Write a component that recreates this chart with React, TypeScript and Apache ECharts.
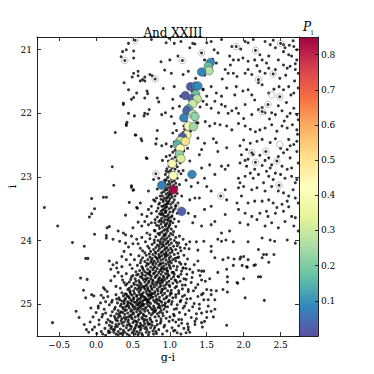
import React, { useEffect, useRef } from "react";
import * as echarts from "echarts";

// ---------- data (g-i, i) ----------
const fieldTopLeft: [number, number][] = [
  [0.44,20.90],[0.75,20.84],[0.95,20.89],[0.41,21.00],[0.36,21.03],[0.51,21.02],[0.34,21.11],[0.51,21.13],[0.88,21.19],[0.93,21.32],
  [0.57,21.34],[0.51,21.37],[0.57,21.41],[0.49,21.43],[0.73,21.39],[0.76,21.41],[0.66,21.43],[0.63,21.47],[0.60,21.49],[0.66,21.49],
  [0.38,21.52],[0.91,21.61],[0.44,21.63],[0.55,21.68],[0.69,21.65],[0.70,21.69],[0.51,21.75],[0.48,21.78],[0.66,21.76],[0.83,21.76],
  [0.85,21.82],[0.37,21.84],[0.37,21.86],[0.72,21.94],[0.44,22.00],[0.52,22.04],[0.66,22.00],[0.65,22.04],[0.70,22.01],[0.89,22.02],
  [0.94,21.99],[0.42,22.14],[0.41,22.19],[0.26,22.30],[0.53,22.34],[0.83,22.27],[0.41,22.17],[0.61,22.40]
];

const fieldTopRight: [number, number][] = [
  [0.99,20.82],[1.15,20.87],[1.06,20.90],[1.31,20.90],[1.34,20.91],[1.50,20.89],[1.56,20.87],[1.70,20.84],[1.84,20.95],[2.02,20.87],
  [2.06,20.89],[2.13,20.84],[2.29,20.87],[2.36,20.92],[2.43,20.97],[2.54,20.92],[2.56,20.97],[2.68,20.95],[2.72,21.00],[1.00,21.16],
  [1.11,21.10],[1.27,20.97],[1.47,21.16],[1.65,21.05],[1.81,21.10],[1.86,21.16],[1.93,21.16],[1.99,21.13],[2.06,21.18],[2.15,21.16],
  [2.22,21.08],[2.25,21.16],[2.31,21.21],[2.34,21.10],[2.47,21.16],[2.54,21.03],[2.61,21.08],[2.65,21.10],[2.72,21.16],[1.02,21.37],
  [1.06,21.58],[1.18,21.39],[1.25,21.34],[1.56,21.29],[1.63,21.21],[1.75,21.31],[1.79,21.37],[1.86,21.37],[1.91,21.42],[2.02,21.37],
  [2.06,21.31],[2.11,21.39],[2.22,21.34],[2.29,21.37],[2.34,21.29],[2.43,21.31],[2.54,21.24],[2.59,21.29],[2.63,21.26],[2.70,21.31],
  [2.74,21.37],[1.04,21.78],[1.15,21.73],[1.45,21.63],[1.50,21.73],[1.56,21.58],[1.63,21.68],[1.70,21.73],[1.77,21.60],[1.90,21.58],
  [1.99,21.65],[2.06,21.63],[2.11,21.71],[2.20,21.52],[2.25,21.55],[2.34,21.68],[2.48,21.58],[2.54,21.63],[2.61,21.58],[2.68,21.68],
  [2.74,21.60],[1.04,21.92],[1.13,21.89],[1.45,21.81],[1.50,21.86],[1.56,21.92],[1.61,21.81],[1.66,21.99],[1.70,21.86],[1.75,21.89],
  [1.79,22.00],[1.84,21.96],[1.90,21.92],[1.93,22.00],[2.02,21.86],[2.11,22.02],[2.20,21.94],[2.25,21.91],[2.29,21.99],[2.38,21.99],
  [2.43,22.02],[2.52,21.96],[2.59,22.05],[2.63,22.00],[2.72,22.02],[2.74,22.10],[1.02,22.05],[1.06,22.16],[1.38,22.15],[1.48,22.13],
  [1.54,22.20],[1.61,22.16],[1.68,22.18],[1.77,22.20],[1.84,22.26],[1.93,22.16],[2.02,22.20],[2.09,22.25],[2.16,22.29],[2.22,22.26],
  [2.29,22.23],[2.38,22.18],[2.45,22.28],[2.52,22.20],[2.59,22.23],[2.66,22.18],[2.72,22.26],[2.73,22.33],[2.67,20.86],[2.49,21.45],
  [2.58,21.83],[2.69,21.49],[2.41,21.62],[1.96,20.99],[2.18,21.25],[1.71,21.46],[2.62,20.93],[2.70,21.22],[2.57,21.40],[2.64,21.71],
  [2.47,21.88],[2.68,21.92],[2.55,22.12],[2.35,22.09],[2.15,21.79],[1.88,21.71],[2.00,22.08],[2.40,20.85],[1.60,21.00],[1.82,21.24]
];

const rgbUpper: [number, number][] = [
  [1.40,21.55],[1.45,21.62],[1.30,21.65],[1.36,21.82],[1.25,21.88],[1.41,21.90],[1.30,22.04],[1.22,22.12],[1.36,22.15],[1.28,22.28],
  [1.18,22.30],[1.20,22.25],[1.15,22.37],[1.24,22.40],[1.35,21.45],[1.47,21.40],[1.58,21.15],[1.33,22.10],[1.27,21.99],[1.19,22.20],
  [1.04,22.31],[1.09,22.27]
];

const fieldMidLeft: [number, number][] = [
  [0.62,22.43],[0.82,22.40],[0.81,22.48],[0.89,22.51],[0.95,22.48],[0.69,22.71],[0.90,22.74],[0.95,22.91],[0.22,22.84],[0.78,23.04],
  [0.85,23.02],[0.93,23.05],[0.24,23.13],[0.48,23.14],[0.51,23.20],[0.71,23.22],[0.83,23.19],[0.89,23.25],[0.94,23.20],[-0.06,23.34],
  [0.10,23.32],[0.14,23.32],[0.78,23.36],[0.82,23.33],[0.87,23.30],[0.96,23.33],[-0.70,23.48],[-0.02,23.50],[0.56,23.49],[0.60,23.41],
  [0.71,23.51],[0.75,23.46],[0.80,23.38],[0.85,23.43],[0.91,23.46],[-0.09,23.63],[-0.06,23.58],[0.62,23.59],[0.69,23.62],[0.75,23.57],
  [0.82,23.54],[0.88,23.59],[0.94,23.55],[-0.52,23.77],[0.15,23.80],[0.18,23.78],[0.57,23.71],[0.62,23.77],[0.66,23.70],[0.71,23.75],
  [0.75,23.72],[0.80,23.67],[0.85,23.77],[0.89,23.70],[0.94,23.75],[0.97,23.67],[-0.02,23.90],[0.14,23.92],[0.37,23.88],[0.40,23.91],
  [0.69,23.88],[0.73,23.91],[0.80,23.85],[0.87,23.88],[0.94,23.91],[0.54,22.34],[0.68,22.70],[0.48,23.16],[0.50,23.21],[0.55,23.48],
  [0.40,23.60],[0.30,23.85],[0.50,23.80],[0.45,23.40]
];

const fieldMidRight: [number, number][] = [
  [1.38,22.39],[1.47,22.47],[1.59,22.40],[1.63,22.46],[1.95,22.51],[2.00,22.42],[2.04,22.57],[2.09,22.47],[2.18,22.44],[2.25,22.41],
  [2.36,22.46],[2.43,22.40],[2.61,22.41],[2.68,22.49],[2.72,22.44],[1.43,22.57],[1.40,22.65],[1.65,22.60],[1.77,22.54],[1.97,22.65],
  [2.02,22.74],[2.06,22.72],[2.13,22.65],[2.22,22.66],[2.29,22.74],[2.34,22.70],[2.38,22.81],[2.47,22.68],[2.54,22.62],[2.59,22.57],
  [2.63,22.70],[2.72,22.60],[1.27,22.75],[1.43,22.86],[1.54,22.81],[1.70,22.83],[1.79,22.82],[1.95,22.78],[2.04,22.83],[2.09,22.94],
  [2.15,22.88],[2.25,22.82],[2.31,22.91],[2.36,22.86],[2.43,22.94],[2.52,22.83],[2.59,22.88],[2.65,22.86],[2.72,23.04],[2.74,22.78],
  [1.47,23.02],[1.61,22.96],[1.75,22.88],[1.93,23.02],[1.95,23.09],[2.02,22.99],[2.13,23.02],[2.20,22.96],[2.27,23.09],[2.34,22.99],
  [2.40,23.04],[2.50,22.96],[2.56,23.02],[2.65,22.99],[2.70,23.09],[1.29,23.15],[1.38,23.09],[1.50,23.15],[1.56,23.22],[1.75,23.20],
  [1.93,23.17],[2.00,23.15],[2.11,23.20],[2.18,23.17],[2.29,23.22],[2.38,23.15],[2.47,23.22],[2.54,23.25],[2.61,23.30],[2.70,23.33],
  [1.11,23.41],[1.27,23.36],[1.34,23.33],[1.40,23.33],[1.56,23.46],[1.77,23.36],[1.91,23.41],[1.97,23.30],[2.06,23.41],[2.15,23.38],
  [2.25,23.38],[2.34,23.36],[2.40,23.41],[2.52,23.43],[2.59,23.38],[2.74,23.41],[1.25,23.57],[1.34,23.62],[1.47,23.51],[1.61,23.70],
  [1.75,23.59],[1.93,23.51],[2.02,23.57],[2.11,23.62],[2.22,23.57],[2.31,23.54],[2.43,23.57],[2.54,23.54],[2.65,23.62],[2.70,23.64],
  [1.31,23.72],[1.43,23.77],[1.56,23.75],[1.70,23.88],[1.81,23.85],[1.95,23.72],[2.06,23.75],[2.18,23.67],[2.29,23.77],[2.38,23.72],
  [2.47,23.80],[2.56,23.70],[2.68,23.77],[2.74,23.85],[1.18,22.90],[1.22,23.05],[1.16,23.30],[2.63,22.51],[2.50,22.55],[2.67,23.20],
  [2.45,23.48],[2.61,23.47],[2.33,23.62]
];

const rgbBand: [number, number][] = [
  [1.10,22.41],[1.17,22.43],[1.06,22.45],[1.13,22.47],[1.21,22.48],[1.09,22.50],[1.02,22.52],[1.15,22.53],[1.11,22.56],[1.07,22.58],
  [1.19,22.59],[1.04,22.61],[1.13,22.62],[1.09,22.64],[1.00,22.66],[1.16,22.67],[1.07,22.69],[1.12,22.70],[1.03,22.72],[1.10,22.74],
  [0.98,22.75],[1.06,22.77],[1.14,22.78],[1.02,22.79],[1.08,22.80],[1.24,22.55],[0.95,22.68],
  [1.05,22.81],[0.99,22.83],[1.10,22.84],[1.03,22.86],[0.96,22.87],[1.07,22.88],[1.01,22.90],[1.12,22.91],[0.98,22.92],[1.05,22.93],
  [1.02,22.95],[0.94,22.96],[1.08,22.97],[1.00,22.98],[1.04,23.00],[0.97,23.01],[1.10,23.02],[1.02,23.03],[0.95,23.05],[1.06,23.06],
  [0.99,23.07],[1.03,23.08],[0.93,23.09],[1.08,23.10],[1.00,23.11],[0.97,23.12],[1.05,23.13],[1.01,23.15],[0.94,23.16],[1.09,23.16],
  [0.98,23.17],[1.03,23.18],[0.96,23.20],[1.06,23.21],[1.00,23.22],[0.92,23.23],[1.04,23.24],[0.98,23.25],[1.10,23.26],[0.95,23.27],
  [1.02,23.28],[0.99,23.29],[1.07,23.30],[0.90,23.30],[1.13,23.12],[1.15,22.95],
  [0.97,23.31],[1.03,23.32],[0.93,23.33],[1.00,23.34],[0.88,23.35],[1.06,23.36],[0.95,23.37],[0.99,23.38],[0.91,23.39],[1.04,23.40],
  [0.86,23.41],[0.97,23.42],[1.01,23.43],[0.93,23.44],[1.08,23.45],[0.89,23.46],[0.96,23.47],[1.02,23.48],[0.84,23.49],[0.99,23.50],
  [0.92,23.51],[1.05,23.52],[0.95,23.53],[0.88,23.54],[1.00,23.55],[0.94,23.56],[1.10,23.57],[0.86,23.58],[0.98,23.59],[0.91,23.60],
  [1.03,23.61],[0.96,23.62],[0.83,23.63],[0.99,23.64],[0.89,23.65],[1.06,23.66],[0.93,23.67],[0.97,23.68],[1.01,23.69],[0.85,23.70],
  [0.92,23.71],[1.04,23.72],[0.96,23.73],[0.88,23.74],[1.00,23.75],[0.82,23.76],[0.94,23.77],[1.08,23.78],[0.90,23.79],[0.98,23.80],
  [0.86,23.81],[1.02,23.82],[0.93,23.83],[0.79,23.84],[0.97,23.85],[1.05,23.86],[0.89,23.87],[0.95,23.88],[0.84,23.89],[1.01,23.89],
  [0.91,23.36],[0.95,23.43],[0.90,23.57],[1.02,23.63],[0.94,23.48],[0.87,23.68],[0.99,23.77],[0.91,23.85],[1.12,23.70],[0.80,23.72],
  [1.01,23.26],[0.97,23.40],[1.04,23.55],[0.93,23.62],[1.00,23.71],[0.96,23.82],[1.07,23.50],[0.90,23.52]
];

const denseBlob: [number, number][] = [
  [0.86,23.91],[0.93,23.92],[0.99,23.93],[1.04,23.91],[0.81,23.94],[0.90,23.95],[0.96,23.96],[1.08,23.95],[0.73,23.97],[0.88,23.98],
  [1.01,23.98],[0.94,23.99],[0.84,24.00],[0.98,24.01],[1.06,24.00],[0.67,24.02],[0.91,24.02],[0.79,24.03],[1.02,24.04],[0.87,24.05],
  [0.95,24.05],[1.12,24.04],[0.76,24.06],[0.83,24.07],[0.99,24.07],[0.92,24.08],[1.05,24.09],[0.70,24.09],[0.89,24.10],[0.96,24.11],
  [0.81,24.11],[1.01,24.12],[0.86,24.13],[0.60,24.12],[0.93,24.14],[0.78,24.14],[1.08,24.14],[0.98,24.15],[0.84,24.16],[0.90,24.17],
  [0.74,24.17],[1.03,24.18],[0.95,24.18],[0.66,24.19],[0.88,24.19],[0.81,24.20],[1.00,24.20],[0.57,24.05],[1.15,24.16],[0.92,23.97],
  [0.85,24.09],[0.97,24.03],[0.79,23.99],[1.03,24.15],[0.90,24.06],[0.72,24.12],[0.94,24.12],[0.87,24.02],[1.10,24.08],[0.63,24.16],
  [0.92,24.21],[0.77,24.22],[0.85,24.22],[1.06,24.22],[0.68,24.23],[0.97,24.23],[0.58,24.24],[0.89,24.24],[1.01,24.25],[0.80,24.25],
  [0.73,24.26],[0.94,24.26],[1.12,24.26],[0.86,24.27],[0.63,24.27],[0.99,24.28],[0.76,24.28],[0.91,24.29],[0.83,24.29],[1.04,24.30],
  [0.70,24.30],[0.52,24.30],[0.95,24.31],[0.88,24.31],[0.79,24.32],[1.08,24.32],[0.66,24.33],[0.84,24.33],[0.98,24.34],[0.74,24.34],
  [0.91,24.35],[1.02,24.35],[0.60,24.35],[0.81,24.36],[0.87,24.36],[0.95,24.37],[0.71,24.37],[1.15,24.37],[0.77,24.38],[0.99,24.38],
  [0.56,24.39],[0.85,24.39],[0.92,24.40],[0.68,24.40],[1.05,24.40],[0.80,24.41],[0.74,24.42],[0.89,24.42],[0.96,24.43],[0.63,24.43],
  [1.01,24.44],[0.83,24.44],[0.49,24.44],[0.70,24.45],[0.93,24.45],[0.77,24.46],[1.09,24.46],[0.87,24.47],[0.59,24.47],[0.97,24.48],
  [0.81,24.48],[0.66,24.49],[0.90,24.49],[1.03,24.50],[0.73,24.50],[0.85,24.50],[0.54,24.49],[1.18,24.43],[0.61,24.31],[0.46,24.38],
  [0.94,24.24],[0.82,24.27],[0.72,24.21],[1.00,24.32],[0.88,24.37],[0.78,24.43],[0.96,24.47],[0.64,24.46],[0.86,24.25],[0.69,24.36],
  [1.07,24.28],[0.91,24.44],[0.75,24.31],
  [0.62,24.51],[0.79,24.51],[0.94,24.52],[0.41,24.52],[0.71,24.52],[0.88,24.53],[1.06,24.53],[0.55,24.54],[0.83,24.54],[0.99,24.55],
  [0.67,24.55],[0.75,24.56],[0.91,24.56],[0.48,24.57],[0.60,24.57],[1.12,24.57],[0.86,24.58],[0.80,24.58],[0.96,24.59],[0.70,24.59],
  [0.53,24.60],[1.02,24.60],[0.64,24.61],[0.89,24.61],[0.77,24.62],[0.36,24.62],[0.93,24.62],[0.58,24.63],[0.84,24.63],[1.08,24.63],
  [0.72,24.64],[0.99,24.64],[0.45,24.65],[0.66,24.65],[0.81,24.66],[0.90,24.66],[0.51,24.67],[0.76,24.67],[1.04,24.67],[0.61,24.68],
  [0.87,24.68],[0.95,24.69],[0.69,24.69],[0.40,24.70],[0.56,24.70],[0.82,24.70],[1.17,24.70],[0.74,24.71],[0.92,24.71],[0.63,24.72],
  [0.48,24.72],[1.00,24.72],[0.79,24.73],[0.86,24.73],[0.58,24.74],[0.70,24.74],[1.07,24.74],[0.33,24.75],[0.53,24.75],[0.94,24.75],
  [0.66,24.76],[0.83,24.76],[0.76,24.77],[0.43,24.77],[0.89,24.77],[1.02,24.78],[0.60,24.78],[0.72,24.79],[0.51,24.79],[0.97,24.79],
  [0.80,24.80],[0.68,24.80],[1.12,24.79],[0.38,24.66],[0.57,24.53],[0.97,24.52],[0.73,24.54],[0.85,24.60],[0.68,24.62],[1.22,24.61],
  [0.54,24.64],[0.78,24.69],[0.65,24.73],[0.91,24.76],[0.47,24.61],[0.62,24.58],[0.87,24.64],[0.74,24.60],[1.10,24.66],[0.59,24.66],
  [0.81,24.56],[0.45,24.75],[0.99,24.70],[0.70,24.77],[0.56,24.77],[0.84,24.79],[1.05,24.57],[0.63,24.54],[0.92,24.58],[0.77,24.64],
  [0.50,24.55],[1.25,24.77],[0.35,24.56],[0.71,24.66],[0.96,24.66],[0.61,24.75],[0.88,24.71],[0.42,24.68],[1.15,24.53],[0.78,24.52],
  [0.67,24.71],
  [0.46,24.81],[0.58,24.81],[0.73,24.81],[0.88,24.82],[0.35,24.82],[0.64,24.82],[1.01,24.82],[0.52,24.83],[0.79,24.83],[0.93,24.83],
  [0.41,24.84],[0.69,24.84],[0.84,24.84],[0.59,24.85],[0.27,24.85],[0.75,24.85],[1.08,24.85],[0.49,24.86],[0.62,24.86],[0.90,24.86],
  [0.37,24.87],[0.71,24.87],[0.81,24.87],[0.55,24.88],[0.96,24.88],[0.44,24.88],[0.66,24.89],[0.77,24.89],[0.86,24.89],[0.31,24.90],
  [0.51,24.90],[1.04,24.90],[0.60,24.91],[0.73,24.91],[0.40,24.91],[0.92,24.92],[0.82,24.92],[0.47,24.93],[0.67,24.93],[0.56,24.94],
  [0.22,24.94],[0.78,24.94],[0.99,24.94],[0.35,24.95],[0.63,24.95],[0.87,24.95],[0.43,24.96],[0.70,24.96],[1.14,24.96],[0.52,24.97],
  [0.80,24.97],[0.59,24.98],[0.94,24.98],[0.29,24.98],[0.38,24.99],[0.74,24.99],[0.65,25.00],[0.48,25.00],[0.85,25.00],[1.02,25.00],
  [0.55,25.01],[0.18,25.01],[0.71,25.02],[0.42,25.02],[0.90,25.02],[0.33,25.03],[0.61,25.03],[0.78,25.03],[0.50,25.04],[0.97,25.04],
  [0.68,25.05],[0.26,25.05],[0.84,25.05],[0.45,25.06],[0.57,25.06],[0.75,25.07],[0.37,25.07],[1.09,25.07],[0.63,25.08],[0.92,25.08],
  [0.52,25.08],[0.81,25.09],[0.41,25.09],[0.70,25.10],[0.30,25.10],[0.59,25.10],[0.88,25.10],[1.20,25.03],[0.16,24.88],[0.64,24.88],
  [0.39,24.84],[0.57,24.92],[0.72,24.97],[0.46,24.98],[0.83,24.99],[0.62,25.01],[0.36,25.05],[0.53,25.05],[0.77,25.09],[0.94,25.04],
  [0.68,24.91],[0.85,24.93],[0.49,24.95],[0.25,25.08],[0.60,24.96],[0.43,24.99],[0.73,25.04],[1.00,24.86],[0.55,24.86],[0.32,24.93],
  [0.66,25.07],[0.89,24.97],[0.48,25.09],[1.17,24.88],[0.76,24.83],[0.40,25.04],[0.58,25.02],[0.82,24.95],[0.69,24.99],[0.21,24.97],
  [1.06,25.08],[0.51,24.92],[0.95,24.90],[0.34,25.00],[0.62,24.84],[0.79,25.06],[0.45,24.90],[0.71,24.93],[1.23,24.92],[0.28,24.92],
  [0.87,25.06],[0.56,25.08],[0.38,24.96],[0.65,24.93],[0.74,24.86],[0.50,25.02],[0.93,25.01],[0.60,25.05],[0.42,24.87],
  [0.47,25.11],[0.66,25.11],[0.22,25.12],[0.79,25.12],[0.55,25.12],[0.96,25.12],[0.36,25.13],[0.61,25.13],[0.86,25.13],[0.43,25.14],
  [0.72,25.14],[0.13,25.14],[0.51,25.15],[0.28,25.15],[0.83,25.15],[0.64,25.16],[1.05,25.16],[0.39,25.16],[0.57,25.17],[0.75,25.17],
  [0.20,25.18],[0.46,25.18],[0.91,25.18],[0.33,25.19],[0.68,25.19],[0.53,25.20],[0.80,25.20],[0.08,25.20],[0.41,25.21],[0.62,25.21],
  [0.26,25.22],[0.73,25.22],[0.49,25.23],[0.88,25.23],[0.35,25.23],[0.58,25.24],[0.16,25.24],[0.69,25.25],[1.12,25.24],[0.44,25.25],
  [0.82,25.26],[0.29,25.26],[0.54,25.27],[0.65,25.27],[0.99,25.27],[0.38,25.28],[0.76,25.28],[0.22,25.29],[0.50,25.29],[0.60,25.30],
  [0.87,25.30],[0.31,25.31],[0.45,25.31],[0.71,25.32],[0.04,25.32],[0.55,25.32],[0.93,25.33],[0.18,25.33],[0.37,25.34],[0.64,25.34],
  [0.80,25.35],[0.48,25.35],[0.26,25.36],[0.58,25.36],[0.74,25.37],[1.03,25.37],[0.41,25.37],[0.12,25.38],[0.66,25.38],[0.33,25.39],
  [0.52,25.39],[0.85,25.40],[0.23,25.40],[0.60,25.41],[0.44,25.41],[0.77,25.42],[0.96,25.42],[0.30,25.43],[0.55,25.43],[0.07,25.43],
  [0.68,25.44],[0.39,25.44],[0.17,25.45],[0.49,25.45],[0.82,25.46],[0.62,25.46],[0.27,25.47],[0.90,25.47],[0.36,25.48],[0.57,25.48],
  [0.71,25.48],[0.45,25.49],[0.13,25.49],[1.10,25.45],[-0.02,25.36],[0.34,25.12],[0.59,25.15],[0.77,25.14],[0.48,25.17],[0.25,25.19],
  [0.85,25.19],[0.63,25.23],[0.40,25.24],[0.95,25.22],[0.52,25.26],[0.70,25.29],[0.35,25.30],[0.19,25.27],[0.83,25.32],[0.61,25.33],
  [0.46,25.34],[0.29,25.35],[1.16,25.30],[0.69,25.40],[0.51,25.42],[0.37,25.41],[0.79,25.38],[0.24,25.44],[0.63,25.49],[0.42,25.47],
  [0.92,25.36],[0.57,25.19],[0.14,25.29],[0.74,25.25],[0.31,25.17],[0.66,25.31],[0.43,25.28],[0.88,25.27],[0.53,25.37],[0.20,25.38],
  [1.00,25.20],[0.72,25.44],[0.38,25.21],[0.58,25.45],[0.27,25.25],[0.81,25.43],[0.47,25.39],[0.09,25.47],[0.65,25.18],[0.33,25.46],
  [0.56,25.28],[0.76,25.33],[0.44,25.20],[1.07,25.41],[0.17,25.42],[0.61,25.38],[0.30,25.48],[0.90,25.14],
  [0.39,24.93],[0.54,24.97],[0.69,24.94],[0.44,25.03],[0.32,25.14],[0.50,25.13],[0.27,25.32],[0.42,25.33],[0.59,25.35],[0.21,25.35],
  [0.36,25.45],[0.53,25.47],[0.68,25.36],[0.47,24.84],[0.61,24.89],[0.57,24.99],[0.75,24.89],[0.39,25.10],[0.64,25.02],[0.86,25.03],
  [0.48,25.21],[0.66,25.24],[0.34,25.26],[0.73,25.31],[0.54,25.34],[0.19,25.44],[0.78,25.47],[0.25,25.40],[0.63,24.99],[0.80,25.11],
  [0.59,24.71],[0.75,24.74],[0.89,24.80],[0.52,24.69],[0.67,24.60],[0.84,24.66],[0.73,24.48],[0.97,24.56],[0.62,24.41],[0.88,24.45],
  [0.80,24.18],[0.95,24.21],[0.77,24.35],[1.00,24.41],[0.69,24.51],[0.90,24.63],[0.46,24.79],[0.72,24.85],[0.98,24.96],[0.30,25.21]
];

const blobEdgeRight: [number, number][] = [
  [1.13,23.93],[1.18,23.98],[1.09,24.03],[1.22,24.06],[1.14,24.11],[1.26,24.13],[1.11,24.20],[1.19,24.23],[1.24,24.29],[1.13,24.34],
  [1.21,24.37],[1.10,24.41],[1.27,24.45],[1.16,24.48],[1.23,24.53],[1.11,24.56],[1.19,24.60],[1.14,24.64],[1.29,24.66],[1.21,24.70],
  [1.09,24.72],[1.17,24.76],[1.25,24.80],[1.12,24.83],[1.20,24.86],[1.08,24.89],[1.28,24.91],[1.15,24.94],[1.22,24.98],[1.10,25.01],
  [1.31,25.04],[1.18,25.06],[1.26,25.10],[1.13,25.13],[1.21,25.16],[1.06,25.18],[1.29,25.21],[1.16,25.24],[1.08,25.28],[1.24,25.31],
  [1.12,25.34],[1.19,25.38],[1.05,25.42],[1.27,25.44],[1.15,25.47],[1.33,24.38],[1.35,24.74],[1.36,25.15],[1.02,24.83],[1.04,25.25],
  [1.30,24.58],[1.07,24.62],[1.18,24.43],[1.25,25.36],[1.03,24.96],[1.38,24.88],[1.10,24.27],[1.33,24.99],[1.20,24.12],[1.05,24.50],
  [1.41,24.55],[1.38,24.69],[1.45,24.83],[1.40,25.07],[1.48,24.64],[1.34,25.27],[1.44,25.36],[1.39,24.47],[1.50,25.12],[1.32,24.79]
];

const fieldBottomLeft: [number, number][] = [
  [-0.32,24.03],[-0.16,24.09],[-0.14,24.28],[-0.11,24.28],[-0.21,24.59],[-0.12,24.61],[-0.17,24.78],[-0.14,24.90],[-0.06,24.85],[-0.03,24.87],
  [-0.27,25.11],[-0.23,25.21],[-0.59,25.29],[-0.16,25.32],[-0.13,25.40],[0.03,25.03],[0.10,24.74],[0.12,24.77],[0.18,24.32],[0.23,24.38],
  [0.28,24.35],[0.28,24.43],[0.14,23.96],[0.23,23.98],[0.32,24.01],[0.38,24.17],[0.44,24.10],[0.50,24.05],[0.47,24.22],[0.41,24.30],
  [0.35,24.41],[0.30,24.50],[0.25,24.56],[0.20,24.63],[0.27,24.72],[0.15,24.80],[0.10,24.90],[0.06,24.98],[0.03,25.06],[0.00,25.13],
  [-0.04,25.20],[-0.08,25.28],[0.04,25.25],[-0.10,25.44],[-0.05,25.40],[0.01,25.46],[0.11,25.08],[0.09,25.16],[0.13,24.96],[0.55,23.98],
  [0.62,23.95],[0.48,23.93],[-0.07,25.06],[0.07,24.86],[0.20,24.45],[0.35,24.25],[0.40,24.04]
];

const fieldBottomRight: [number, number][] = [
  [1.27,24.02],[1.36,24.02],[1.46,24.01],[1.56,24.09],[1.56,24.17],[1.65,23.98],[1.70,24.01],[1.76,23.99],[1.86,24.02],[2.06,24.02],
  [2.25,23.96],[2.36,23.99],[2.42,24.01],[2.59,23.99],[2.70,24.04],[1.38,24.15],[1.61,24.27],[1.72,24.30],[1.79,24.27],[1.87,24.29],
  [1.95,24.29],[2.00,24.25],[2.06,24.30],[2.20,24.14],[2.27,24.22],[2.31,24.22],[2.25,24.27],[2.34,24.34],[2.41,24.22],[1.38,24.32],
  [1.22,24.44],[1.31,24.50],[1.43,24.48],[1.46,24.48],[1.65,24.50],[1.77,24.45],[1.86,24.39],[1.98,24.39],[2.05,24.42],[2.16,24.38],
  [2.20,24.57],[1.54,24.60],[1.43,24.62],[1.78,24.57],[1.78,24.65],[1.92,24.67],[2.00,24.60],[1.50,24.77],[1.56,24.78],[1.63,24.79],
  [1.56,24.85],[1.72,24.77],[1.78,24.81],[2.02,24.90],[2.28,24.94],[1.43,24.85],[1.46,24.93],[1.52,24.93],[1.61,24.93],[1.40,25.00],
  [1.52,25.03],[1.61,25.08],[1.56,25.11],[1.43,25.14],[1.50,25.21],[1.59,25.20],[1.36,25.23],[1.34,25.32],[1.43,25.29],[1.47,25.27],
  [1.77,25.33],[1.25,25.40],[1.22,25.45],[2.14,24.39],[2.04,24.41],[1.96,24.26],[1.91,24.66],[2.23,24.57]
];

const circledWithDot: [number, number][] = [
  [0.53,20.85],[0.39,21.17],[0.80,21.46],[1.17,21.17],[1.43,21.05],[1.90,20.95],[2.16,21.01],[2.50,20.90],[2.40,21.38],[2.20,21.47],
  [2.49,21.74],[2.33,21.86],[2.25,21.97],[2.11,22.62],[2.30,22.60],[2.16,22.77],[2.45,22.75],[2.48,23.13],[1.69,23.30],[0.81,22.95],
  [1.08,23.46],[0.92,23.91]
];

const circledEmpty: [number, number][] = [[2.38,21.71],[2.49,22.49]];

// members: [g-i, i, P_i]
const members: [number, number, number][] = [
  [1.55,21.20,0.09],[1.52,21.26,0.17],[1.53,21.33,0.27],[1.43,21.35,0.08],
  [1.28,21.58,0.02],[1.35,21.57,0.07],[1.38,21.57,0.09],
  [1.21,21.72,0.02],[1.35,21.70,0.17],[1.30,21.77,0.03],[1.37,21.77,0.28],
  [1.31,21.85,0.30],[1.25,21.93,0.14],[1.23,21.96,0.03],[1.31,22.01,0.27],[1.34,22.05,0.22],[1.19,22.07,0.08],
  [1.25,22.20,0.40],[1.32,22.21,0.24],[1.23,22.34,0.38],[1.17,22.37,0.02],[1.14,22.43,0.28],[1.21,22.44,0.50],
  [1.10,22.49,0.15],[1.14,22.55,0.44],[1.13,22.65,0.22],[1.15,22.71,0.32],[1.03,22.79,0.40],
  [1.045,22.98,0.42],[1.30,22.96,0.08],[0.89,23.13,0.07],[1.05,23.20,0.84],[1.16,23.54,0.03]
];

const colorbarMax = 0.85;
const spectralR = ["#5e4fa2","#3288bd","#66c2a5","#abdda4","#e6f598","#ffffbf","#fee08b","#fdae61","#f46d43","#d53e4f","#9e0142"];

const SERIF = "'DejaVu Serif', 'Liberation Serif', serif";

export default function App() {
  const ref = useRef<HTMLDivElement>(null);
  useEffect(() => {
    if (!ref.current) return;
    const chart = echarts.init(ref.current, undefined, { renderer: "svg" });
    const blackDots = [
      ...fieldTopLeft, ...fieldTopRight, ...rgbUpper, ...fieldMidLeft, ...fieldMidRight,
      ...rgbBand, ...denseBlob, ...blobEdgeRight, ...fieldBottomLeft, ...fieldBottomRight, ...circledWithDot
    ];
    const tickStyle = { color: "#000", width: 0.8 };
    const lineStyle = { color: "#222", width: 1 };
    const mainX = { gridIndex: 0, type: "value", min: -0.8, max: 2.75, splitNumber: 7, minInterval: 0.5, maxInterval: 0.5, splitLine: { show: false } };
    const mainY = { gridIndex: 0, type: "value", inverse: true, min: 20.8, max: 25.5, splitNumber: 5, minInterval: 1, maxInterval: 1, splitLine: { show: false } };
    const stops = spectralR.map((c, i) => ({ offset: i / (spectralR.length - 1), color: c }));
    chart.setOption({
      animation: false,
      backgroundColor: "#fff",
      title: {
        text: "And XXIII", left: 168, top: 22, textAlign: "center",
        textStyle: { fontFamily: SERIF, fontSize: 12, fontWeight: "normal", color: "#000" }
      },
      grid: [
        { left: 37, top: 37, width: 262, height: 299, containLabel: false, outerBoundsMode: "none" },
        { left: 299, top: 37, width: 19, height: 299, containLabel: false, outerBoundsMode: "none" }
      ],
      visualMap: {
        show: false, type: "continuous", min: 0, max: colorbarMax, dimension: 2, seriesIndex: 2,
        inRange: { color: spectralR }
      },
      xAxis: [
        {
          ...mainX, position: "bottom",
          axisLine: { show: true, onZero: false, lineStyle },
          axisTick: { show: true, inside: true, length: 4, lineStyle: tickStyle },
          axisLabel: {
            showMinLabel: false, showMaxLabel: false, margin: 4,
            fontFamily: SERIF, fontSize: 9, color: "#000",
            formatter: (v: number) => (v < 0 ? "\u2212" : "") + Math.abs(v).toFixed(1)
          },
          name: "g-i", nameLocation: "middle", nameGap: 16, nameMoveOverlap: false,
          nameTextStyle: { fontFamily: SERIF, fontSize: 11, color: "#000" }
        },
        {
          ...mainX, position: "top",
          axisLine: { show: true, onZero: false, lineStyle },
          axisTick: { show: true, inside: true, length: 4, lineStyle: tickStyle },
          axisLabel: { show: false }
        },
        {
          gridIndex: 1, type: "category", data: ["P"], position: "bottom",
          axisLine: { show: true, onZero: false, lineStyle }, axisTick: { show: false }, axisLabel: { show: false }, z: 10
        },
        {
          gridIndex: 1, type: "category", data: ["P"], position: "top",
          axisLine: { show: true, onZero: false, lineStyle }, axisTick: { show: false }, axisLabel: { show: false }, z: 10
        }
      ],
      yAxis: [
        {
          ...mainY, position: "left",
          axisLine: { show: true, onZero: false, lineStyle },
          axisTick: { show: true, inside: true, length: 4, lineStyle: tickStyle },
          axisLabel: {
            showMinLabel: false, showMaxLabel: false, margin: 5,
            fontFamily: SERIF, fontSize: 9, color: "#000",
            formatter: (v: number) => String(Math.round(v))
          },
          name: "i", nameLocation: "middle", nameGap: 19, nameRotate: 90, nameMoveOverlap: false,
          nameTextStyle: { fontFamily: SERIF, fontSize: 11, color: "#000" }
        },
        {
          ...mainY, position: "right",
          axisLine: { show: true, onZero: false, lineStyle },
          axisTick: { show: true, inside: true, length: 4, lineStyle: tickStyle },
          axisLabel: { show: false }
        },
        {
          gridIndex: 1, type: "value", min: 0, max: colorbarMax, interval: 0.1, position: "right", z: 10,
          axisLine: { show: true, onZero: false, lineStyle },
          axisTick: { show: true, inside: true, length: 3, lineStyle: tickStyle },
          axisLabel: {
            showMinLabel: false, showMaxLabel: false, margin: 3,
            fontFamily: SERIF, fontSize: 9, color: "#000",
            formatter: (v: number) => v.toFixed(1)
          },
          splitLine: { show: false }
        },
        {
          gridIndex: 1, type: "value", min: 0, max: colorbarMax, interval: 0.1, position: "left", z: 10,
          axisLine: { show: true, onZero: false, lineStyle },
          axisTick: { show: false }, axisLabel: { show: false }, splitLine: { show: false }
        }
      ],
      graphic: [
        { type: "text", left: 303, top: 21, style: { text: "P", font: `italic 12px ${SERIF}`, fill: "#000" } },
        { type: "text", left: 311, top: 29, style: { text: "i", font: `7px ${SERIF}`, fill: "#000" } }
      ],
      series: [
        {
          type: "scatter", xAxisIndex: 0, yAxisIndex: 0, data: blackDots, symbol: "circle", symbolSize: 3,
          itemStyle: { color: "#000" }, silent: true, z: 2
        },
        {
          type: "scatter", xAxisIndex: 0, yAxisIndex: 0, data: [...circledWithDot, ...circledEmpty], symbol: "circle", symbolSize: 6.5,
          itemStyle: { color: "rgba(0,0,0,0)", borderColor: "#999", borderWidth: 0.8 }, silent: true, z: 3
        },
        {
          type: "scatter", xAxisIndex: 0, yAxisIndex: 0, data: members, symbol: "circle", symbolSize: 8.5,
          itemStyle: { borderColor: "#444", borderWidth: 0.5, opacity: 1 }, silent: true, z: 4
        },
        {
          type: "bar", xAxisIndex: 2, yAxisIndex: 2, data: [colorbarMax], barWidth: "100%", silent: true,
          itemStyle: { color: new echarts.graphic.LinearGradient(0, 1, 0, 0, stops) }
        }
      ]
    });
    return () => chart.dispose();
  }, []);
  return <div ref={ref} style={{ position: "fixed", left: 0, top: 0, width: 374, height: 374 }} />;
}
